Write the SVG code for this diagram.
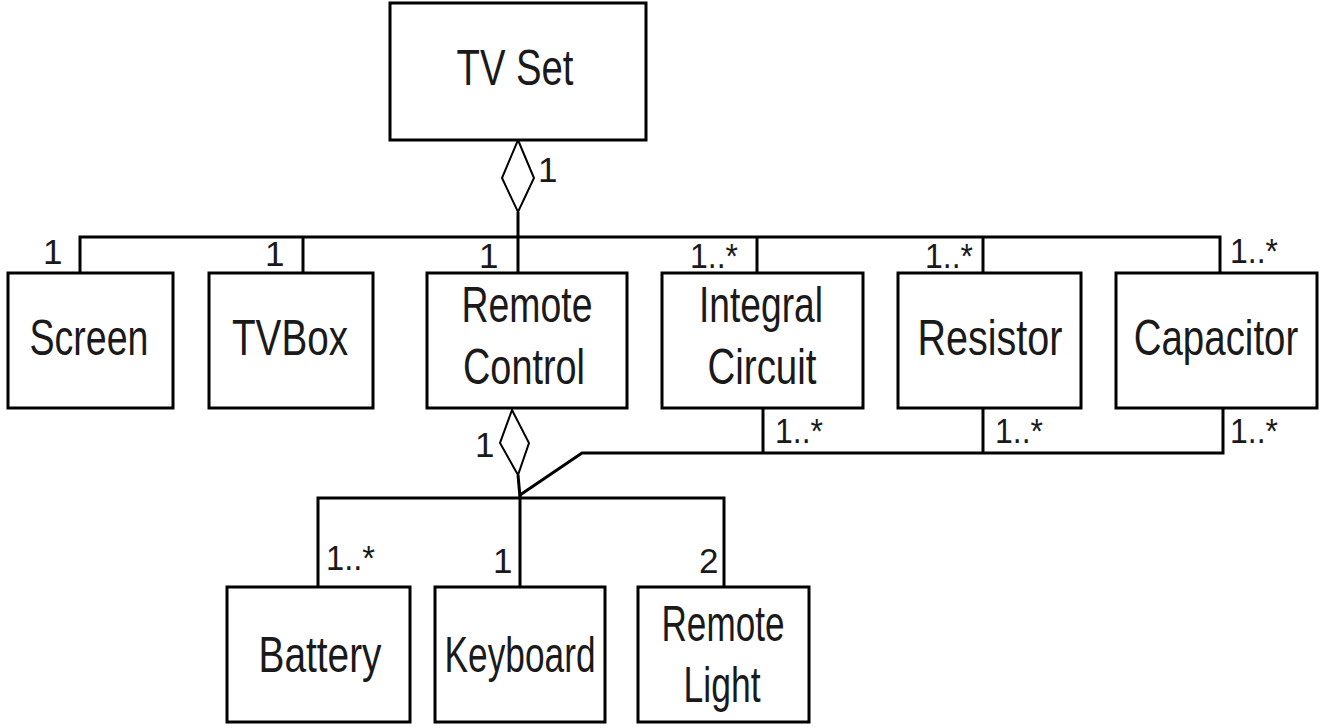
<svg xmlns="http://www.w3.org/2000/svg" width="1322" height="728" viewBox="0 0 1322 728">
<style>
.box{fill:#fff;stroke:#000;stroke-width:3}
.ln{fill:none;stroke:#000;stroke-width:3}
.dm{fill:#fff;stroke:#000;stroke-width:2}
.nm{font-family:"Liberation Sans",Arial,sans-serif;font-size:50px;fill:#1a1a1a;text-anchor:middle}
.mu{font-family:"Liberation Sans",Arial,sans-serif;font-size:35px;fill:#1a1a1a}
</style>
<rect width="1322" height="728" fill="#fff"/>
<g id="connectors">
<polyline class="ln" points="80,273 80,237 1220,237 1220,273"/>
<line class="ln" x1="303" y1="237" x2="303" y2="273"/>
<line class="ln" x1="518" y1="212" x2="518" y2="273"/>
<line class="ln" x1="757" y1="237" x2="757" y2="273"/>
<line class="ln" x1="983" y1="237" x2="983" y2="273"/>
<polygon class="dm" points="518,140 534,178 518,212 502,178"/>
<polyline class="ln" points="763,408 763,453"/>
<polyline class="ln" points="983,408 983,453"/>
<polyline class="ln" points="1223,408 1223,453 582,453 520,495"/>
<line class="ln" x1="518" y1="475" x2="520" y2="497"/>
<polygon class="dm" points="512,410 529,443 518,475 500,443"/>
<polyline class="ln" points="318,587 318,498 724,498 724,587"/>
<line class="ln" x1="520" y1="495" x2="520" y2="587"/>
<text class="mu" x="538" y="182">1</text>
<text class="mu" x="43" y="264">1</text>
<text class="mu" x="265" y="266">1</text>
<text class="mu" x="479" y="268">1</text>
<text class="mu" x="690" y="268" textLength="48" lengthAdjust="spacingAndGlyphs">1..*</text>
<text class="mu" x="925" y="268" textLength="48" lengthAdjust="spacingAndGlyphs">1..*</text>
<text class="mu" x="1230" y="263" textLength="48" lengthAdjust="spacingAndGlyphs">1..*</text>
<text class="mu" x="775" y="443" textLength="48" lengthAdjust="spacingAndGlyphs">1..*</text>
<text class="mu" x="995" y="443" textLength="48" lengthAdjust="spacingAndGlyphs">1..*</text>
<text class="mu" x="1230" y="443" textLength="48" lengthAdjust="spacingAndGlyphs">1..*</text>
<text class="mu" x="475" y="457">1</text>
<text class="mu" x="326" y="570" textLength="49" lengthAdjust="spacingAndGlyphs">1..*</text>
<text class="mu" x="493" y="573">1</text>
<text class="mu" x="699" y="573">2</text>
</g>
<g id="tvset"><rect class="box" x="390" y="3" width="256" height="137"/><text class="nm" x="515" y="85" textLength="117" lengthAdjust="spacingAndGlyphs">TV Set</text></g>
<g id="screen"><rect class="box" x="8" y="273" width="165" height="135"/><text class="nm" x="89" y="355" textLength="119" lengthAdjust="spacingAndGlyphs">Screen</text></g>
<g id="tvbox"><rect class="box" x="209" y="273" width="164" height="135"/><text class="nm" x="290" y="355" textLength="116" lengthAdjust="spacingAndGlyphs">TVBox</text></g>
<g id="remotecontrol"><rect class="box" x="427" y="273" width="200" height="135"/><text class="nm" x="527" y="322" textLength="131" lengthAdjust="spacingAndGlyphs">Remote</text><text class="nm" x="524" y="384" textLength="122" lengthAdjust="spacingAndGlyphs">Control</text></g>
<g id="integralcircuit"><rect class="box" x="662" y="273" width="201" height="135"/><text class="nm" x="761" y="322" textLength="124" lengthAdjust="spacingAndGlyphs">Integral</text><text class="nm" x="762" y="384" textLength="109" lengthAdjust="spacingAndGlyphs">Circuit</text></g>
<g id="resistor"><rect class="box" x="898" y="273" width="183" height="135"/><text class="nm" x="990" y="355" textLength="145" lengthAdjust="spacingAndGlyphs">Resistor</text></g>
<g id="capacitor"><rect class="box" x="1116" y="273" width="201" height="135"/><text class="nm" transform="translate(1216,355) scale(0.78,1)" x="0" y="0" textLength="211" lengthAdjust="spacingAndGlyphs">Capacitor</text></g>
<g id="battery"><rect class="box" x="227" y="587" width="183" height="135"/><text class="nm" x="320" y="672" textLength="123" lengthAdjust="spacingAndGlyphs">Battery</text></g>
<g id="keyboard"><rect class="box" x="435" y="587" width="170" height="135"/><text class="nm" x="520" y="672" textLength="151" lengthAdjust="spacingAndGlyphs">Keyboard</text></g>
<g id="remotelight"><rect class="box" x="638" y="587" width="171" height="135"/><text class="nm" x="723" y="641" textLength="123" lengthAdjust="spacingAndGlyphs">Remote</text><text class="nm" x="722" y="702" textLength="77" lengthAdjust="spacingAndGlyphs">Light</text></g>
</svg>
